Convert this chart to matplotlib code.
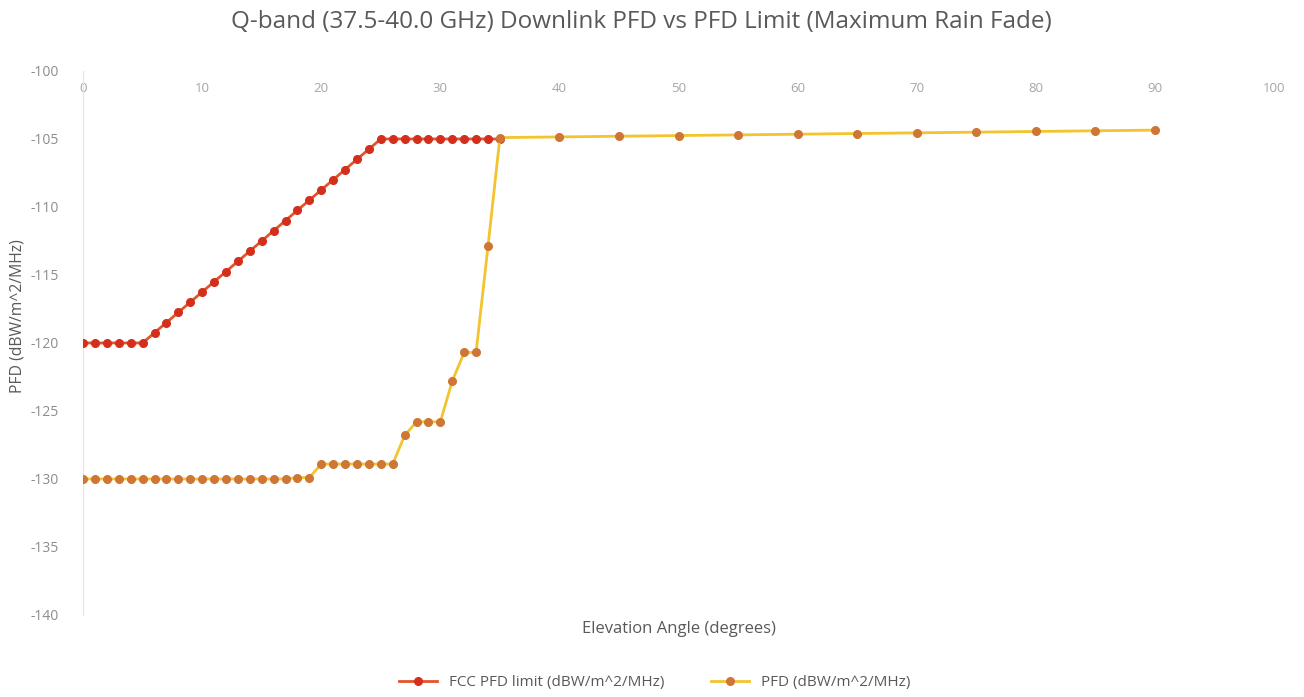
import numpy as np
import matplotlib
matplotlib.use('Agg')
import matplotlib.pyplot as plt

plt.rcParams['font.family'] = ['Open Sans', 'DejaVu Sans']
plt.rcParams['axes.unicode_minus'] = False

# FCC limit, 0..35 deg in 1 deg steps
fcc_elev = list(range(0, 36))
fcc_limit = [-120, -120, -120, -120, -120, -120,
             -119.25, -118.5, -117.75, -117, -116.25, -115.5, -114.75, -114,
             -113.25, -112.5, -111.75, -111, -110.25, -109.5, -108.75, -108,
             -107.25, -106.5, -105.75, -105,
             -105, -105, -105, -105, -105, -105, -105, -105, -105, -105]

# PFD, 0..35 in 1 deg steps then 40..90 in 5 deg steps
pfd_elev = list(range(0, 36)) + [40, 45, 50, 55, 60, 65, 70, 75, 80, 85, 90]
pfd = [-130, -130, -130, -130, -130, -130, -130, -130, -130, -130,
       -130, -130, -130, -130, -130, -130, -130, -130, -129.9, -129.9,
       -128.9, -128.9, -128.9, -128.9, -128.9, -128.9, -128.9,
       -126.8, -125.8, -125.8, -125.8, -122.8, -120.7, -120.7, -112.9, -104.9,
       -104.85, -104.8, -104.75, -104.7, -104.65, -104.6, -104.55, -104.5,
       -104.45, -104.4, -104.35]

fig = plt.figure(figsize=(13.04, 6.97), dpi=100)
ax = fig.add_axes([0.0637, 0.1177, 0.9133, 0.7805])

ax.plot(fcc_elev, fcc_limit, color='#e2552a', lw=2, marker='o', ms=5.5,
        mfc='#d42f1c', mec='#d42f1c', label='FCC PFD limit (dBW/m^2/MHz)', zorder=3)
ax.plot(pfd_elev, pfd, color='#f3c42e', lw=2, marker='o', ms=5.5,
        mfc='#cf7635', mec='#cf7635', label='PFD (dBW/m^2/MHz)', zorder=4)

ax.set_xlim(0, 100)
ax.set_ylim(-140, -100)
ax.set_xticks(np.arange(0, 101, 10))
ax.set_yticks(np.arange(-140, -99, 5))

for s in ['right', 'bottom', 'top']:
    ax.spines[s].set_visible(False)
ax.spines['left'].set_color('#e3e3e3')

ax.tick_params(axis='x', top=False, bottom=False, labeltop=True, labelbottom=False,
               pad=-21, labelsize=9.5, labelcolor='#a6a6a6')
ax.tick_params(axis='y', left=False, pad=14, labelsize=10, labelcolor='#8c8c8c')

fig.suptitle('Q-band (37.5-40.0 GHz) Downlink PFD vs PFD Limit (Maximum Rain Fade)',
             x=0.492, y=0.985, fontsize=17.5, color='#595959')
ax.set_xlabel('Elevation Angle (degrees)', fontsize=12, color='#595959', labelpad=4)
ax.set_ylabel('PFD (dBW/m^2/MHz)', fontsize=11.3, color='#595959')
ax.yaxis.set_label_coords(-0.048, 0.55)

ax.legend(loc='upper center', bbox_to_anchor=(0.48, -0.085), ncol=2, frameon=False,
          fontsize=11, labelcolor='#595959', columnspacing=3, handlelength=2.5)

fig.savefig('out.png', dpi=100)
